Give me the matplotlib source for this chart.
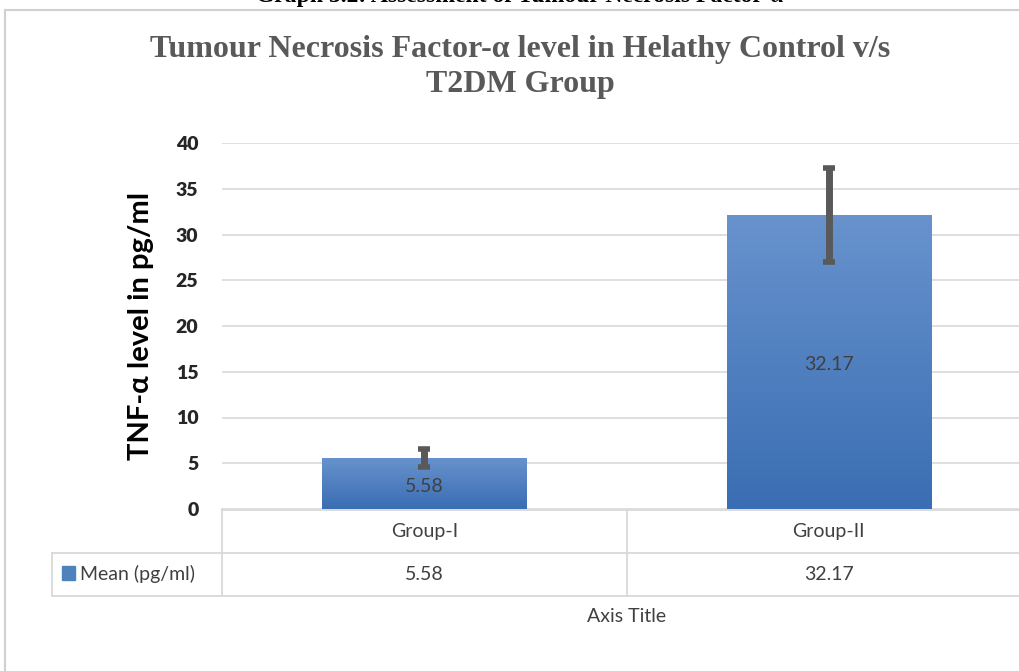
import matplotlib
matplotlib.use("Agg")
import matplotlib.pyplot as plt
import numpy as np
from matplotlib.patches import Rectangle
from matplotlib.lines import Line2D

# datos del grafico
grupos = ['Group-I', 'Group-II']
medias = [5.58, 32.17]
errores = [1.0, 5.15]
serie = 'Mean (pg/ml)'
ticks_y = [0, 5, 10, 15, 20, 25, 30, 35, 40]

W, H = 1019, 671
fig = plt.figure(figsize=(W / 100, H / 100), dpi=100)
fig.patch.set_facecolor('white')


def fx(x):
    return x / W


def fy(y):
    return 1 - y / H


# marco del grafico
fig.patches.append(Rectangle((fx(5), fy(700)), fx(1100), fy(10) - fy(700),
                             transform=fig.transFigure, fill=False,
                             edgecolor='#d0d0d0', lw=1.5))

# titulo cortado arriba (asi aparece en la imagen original)
fig.text(fx(520), fy(2), 'Graph 3.2: Assessment of Tumour Necrosis Factor-α',
         ha='center', va='baseline', family='Liberation Serif',
         weight='bold', fontsize=17, color='black')

fig.text(fx(520), fy(67), 'Tumour Necrosis Factor-α level in Helathy Control v/s\nT2DM Group',
         ha='center', va='center', family='Liberation Serif', weight='bold',
         fontsize=23, color='#595959', linespacing=1.25)

# ejes
x0, x1 = 222, 1031
ytop, ybot = 143, 509
ax = fig.add_axes([fx(x0), fy(ybot), fx(x1 - x0), fy(ytop) - fy(ybot)])

pos = np.arange(len(grupos))
barras = ax.bar(pos, medias, width=0.505, color='#4f81bd', zorder=2)
# degradado en las barras
grad = np.linspace(0, 1, 256).reshape(-1, 1)
cmap = matplotlib.colors.LinearSegmentedColormap.from_list('g', ['#3a6db3', '#6893cd'])
for b in barras:
    im = ax.imshow(grad, extent=[b.get_x(), b.get_x() + b.get_width(), 0, b.get_height()],
                   origin='lower', cmap=cmap, aspect='auto', zorder=2)
    im.set_clip_path(b)

ax.errorbar(pos, medias, yerr=errores, fmt='none', ecolor='#595959',
            elinewidth=5, capsize=4.5, capthick=4, zorder=3)

for p, m in zip(pos, medias):
    ax.text(p, m / 2 - 0.3, f'{m:.2f}', ha='center', va='center', fontsize=14,
            color='#404040', family='Lato', zorder=4)

ax.set_aspect('auto')
ax.set_xlim(-0.5, 1.5)
ax.set_ylim(0, 40)
ax.set_yticks(ticks_y, [str(t) for t in ticks_y], fontweight='heavy',
              family='Lato', fontsize=14, color='#262626')
ax.set_xticks([])
ax.yaxis.grid(True, color='#d9d9d9', lw=1.2)
ax.set_axisbelow(True)
for s in ax.spines.values():
    s.set_visible(False)
ax.tick_params(axis='y', length=0, pad=17)

ax.set_ylabel('TNF-α level in pg/ml', fontsize=21, weight='bold', family='Lato',
              color='black', labelpad=16)

# tabla de datos
gris = '#d9d9d9'
lineas = [
    ((x0, 1100), (510, 510)),
    ((52, 1100), (553, 553)),
    ((52, 1100), (596, 596)),
    ((x0, x0), (509, 596)),
    ((627, 627), (509, 596)),
    ((52, 52), (553, 596)),
]
for xs, ys in lineas:
    fig.lines.append(Line2D([fx(xs[0]), fx(xs[1])], [fy(ys[0]), fy(ys[1])],
                            transform=fig.transFigure, color=gris, lw=1.3))

trans = matplotlib.transforms.blended_transform_factory(ax.transData, fig.transFigure)
for p, g, m in zip(pos, grupos, medias):
    fig.text(p, fy(531), g, transform=trans, ha='center', va='center',
             fontsize=14, color='#404040', family='Lato')
    fig.text(p, fy(575), f'{m:.2f}', transform=trans, ha='center', va='center',
             fontsize=14, color='#404040', family='Lato')

fig.patches.append(Rectangle((fx(62), fy(580)), fx(13), fy(566) - fy(580),
                             transform=fig.transFigure, color='#4f81bd'))
fig.text(fx(80), fy(574), serie, ha='left', va='center', fontsize=14,
         color='#404040', family='Lato')

fig.text(fx(627), fy(616), 'Axis Title', ha='center', va='center', fontsize=14,
         color='#404040', family='Lato')

fig.savefig('out.png', dpi=100)
